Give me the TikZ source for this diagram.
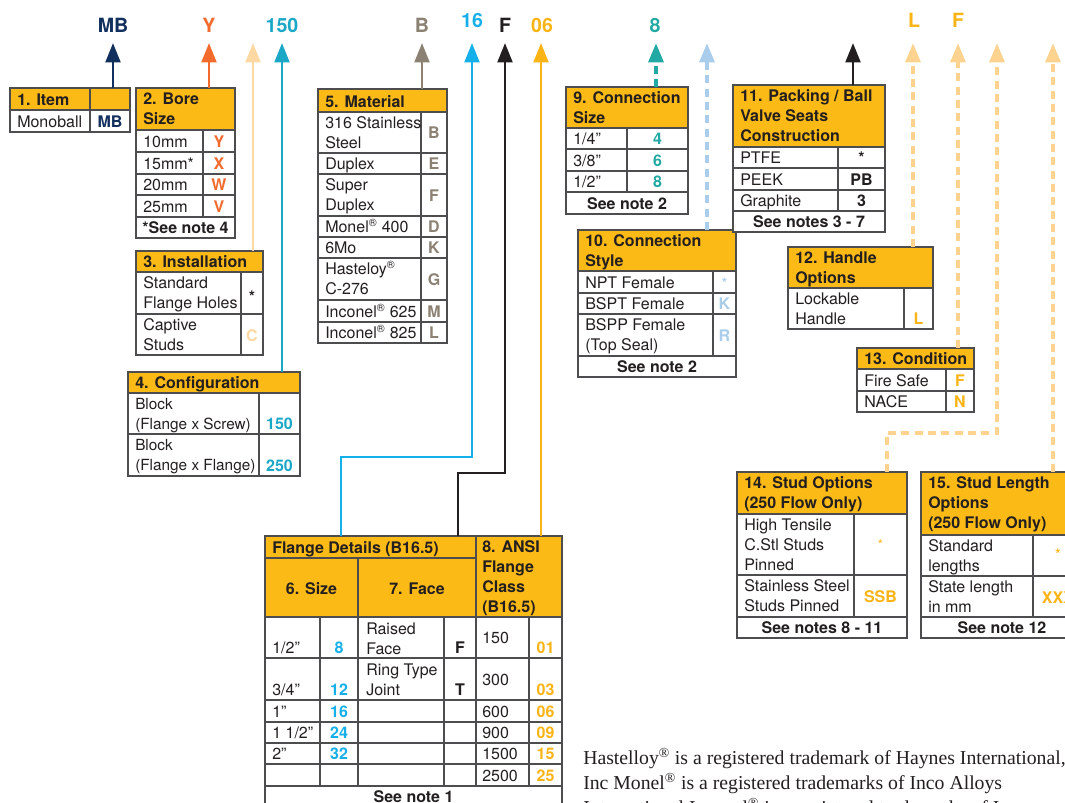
\documentclass[tikz,border=0pt]{standalone}
\usepackage{fontspec}
\setmainfont{TeX Gyre Heros}
\newfontfamily\notefont{Liberation Serif}
\usetikzlibrary{arrows.meta}

\definecolor{hdryellow}{HTML}{FCBA16}
\definecolor{gridgray}{HTML}{4D4D4F}
\definecolor{inkgray}{HTML}{231F20}
\definecolor{itemnavy}{HTML}{12305E}
\definecolor{boreorange}{HTML}{F26A2C}
\definecolor{confcyan}{HTML}{1AA8C6}
\definecolor{instpeach}{HTML}{FDD8A2}
\definecolor{matgray}{HTML}{8C8273}
\definecolor{sizeblue}{HTML}{15B0EA}
\definecolor{classyellow}{HTML}{FBB416}
\definecolor{csizeteal}{HTML}{22A9A3}
\definecolor{stylepale}{HTML}{A9CDEB}
\definecolor{optpale}{HTML}{FDD38F}

\newcommand{\regmark}{\textsuperscript{\textregistered}}

\begin{document}
\begin{tikzpicture}[x=0.75pt, y=-0.75pt,
  hdrbox/.style={draw=gridgray, fill=hdryellow, line width=0.9pt},
  cellbox/.style={draw=gridgray, fill=white, line width=0.9pt},
  celltxt/.style={anchor=base west, inner sep=0pt, text=inkgray, align=left,
    font=\fontsize{12}{15}\selectfont},
  hdrtxt/.style={celltxt, font=\fontsize{12}{15}\selectfont\bfseries},
  codetxt/.style={anchor=base, inner sep=0pt, font=\fontsize{12}{15}\selectfont\bfseries},
  startxt/.style={anchor=base, inner sep=0pt, font=\fontsize{12}{15}\selectfont},
  notetxt/.style={codetxt, text=inkgray},
  toplabel/.style={anchor=base, inner sep=0pt, font=\fontsize{14.7}{18}\selectfont\bfseries},
  solidarrow/.style={line width=2.2pt, -{Triangle[width=11pt,length=14.5pt]}},
  dasharrow/.style={solidarrow, line width=3pt, dash pattern=on 6pt off 4pt},
]
\path[fill=white, use as bounding box] (0,0) rectangle (1065,803);

% code letters along the top
\node[toplabel, text=itemnavy] (lbl-item) at (113,32) {MB};
\node[toplabel, text=boreorange] (lbl-bore) at (209,32) {Y};
\node[toplabel, text=confcyan] (lbl-conf) at (282,32) {150};
\node[toplabel, text=matgray] (lbl-mat) at (422,32) {B};
\node[toplabel, text=sizeblue] (lbl-size) at (472,27.5) {16};
\node[toplabel, text=inkgray] (lbl-face) at (505,32) {F};
\node[toplabel, text=classyellow] (lbl-class) at (542,32) {06};
\node[toplabel, text=csizeteal] (lbl-csize) at (655,32) {8};
\node[toplabel, text=classyellow] (lbl-handle) at (914,27.5) {L};
\node[toplabel, text=classyellow] (lbl-cond) at (958,27.5) {F};
\coordinate (tips) at (0,43);

% 1. Item
\draw[hdrbox] (10,88) rectangle (90,110);
\draw[hdrbox] (90,88) rectangle (130,110);
\draw[cellbox] (10,110) rectangle (90,132);
\draw[cellbox] (90,110) rectangle (130,132);
\node[hdrtxt] (item-h) at (17,105) {1. Item};
\node[celltxt] (item-t) at (17,127) {Monoball};
\node[codetxt, text=itemnavy] (item-MB) at (110,127) {MB};
\coordinate (item-top) at (113,88);

% 2. Bore size
\draw[hdrbox] (136,88) rectangle (235,130);
\node[hdrtxt] (bore-h) at (143,124) {2. Bore\\Size};
\foreach \ya/\yb/\txt/\cd in {130/152/10mm/Y,152/174/15mm*/X,174/195/20mm/W,195/217/25mm/V}
{
  \draw[cellbox] (136,\ya) rectangle (203,\yb);
  \draw[cellbox] (203,\ya) rectangle (235,\yb);
  \node[celltxt] (bore-t\cd) at (143,{\yb-5}) {\txt};
  \node[codetxt, text=boreorange] (bore-\cd) at (219,{\yb-5}) {\cd};
}
\draw[cellbox] (136,217) rectangle (235,238);
\node[notetxt] (bore-note) at (185.5,233) {*See note 4};
\coordinate (bore-top) at (209,88);

% 3. Installation
\draw[hdrbox] (136,251) rectangle (263,272);
\draw[cellbox] (136,272) rectangle (241,314);
\draw[cellbox] (241,272) rectangle (263,314);
\draw[cellbox] (136,314) rectangle (241,355);
\draw[cellbox] (241,314) rectangle (263,355);
\node[hdrtxt] (inst-h) at (143,267) {3. Installation};
\node[celltxt] (inst-t1) at (143,308) {Standard\\Flange Holes};
\node[codetxt, text=inkgray] (inst-std) at (252,302) {*};
\node[celltxt] (inst-t2) at (143,350) {Captive\\Studs};
\node[codetxt, text=instpeach] (inst-C) at (252,341) {C};
\coordinate (inst-top) at (253,251);

% 4. Configuration
\draw[hdrbox] (128,372) rectangle (300,393);
\draw[cellbox] (128,393) rectangle (259,434);
\draw[cellbox] (259,393) rectangle (300,434);
\draw[cellbox] (128,434) rectangle (259,476);
\draw[cellbox] (259,434) rectangle (300,476);
\node[hdrtxt] (conf-h) at (135,388) {4. Configuration};
\node[celltxt, font=\fontsize{11.5}{15}\selectfont] (conf-t1) at (135,429) {Block\\(Flange x Screw)};
\node[codetxt, text=confcyan] (conf-150) at (279.5,429) {150};
\node[celltxt, font=\fontsize{11.5}{15}\selectfont] (conf-t2) at (135,470) {Block\\(Flange x Flange)};
\node[codetxt, text=confcyan] (conf-250) at (279.5,471) {250};
\coordinate (conf-top) at (282,372);

% 5. Material
\draw[hdrbox] (318,89) rectangle (447,112);
\node[hdrtxt] (mat-h) at (325,107) {5. Material};
\foreach \ya/\yb/\tb/\cb/\txt/\cd in {
  112/153/148/138.5/{316 Stainless\\Steel}/B,
  153/174/169/169/Duplex/E,
  174/216/210/201/{Super\\Duplex}/F,
  216/237/232/232/{Monel\regmark{} 400}/D,
  237/258/253/253/6Mo/K,
  258/300/294/285/{Hasteloy\regmark\\C-276}/G,
  300/322/317/317/{Inconel\regmark{} 625}/M,
  322/343/338/338/{Inconel\regmark{} 825}/L}
{
  \draw[cellbox] (318,\ya) rectangle (421,\yb);
  \draw[cellbox] (421,\ya) rectangle (447,\yb);
  \node[celltxt] (mat-t\cd) at (325,\tb) {\txt};
  \node[codetxt, text=matgray] (mat-\cd) at (434,\cb) {\cd};
}
\coordinate (mat-top) at (422,89);

% 6. / 7. / 8. Flange details
\draw[hdrbox] (265,536) rectangle (476,558);
\draw[hdrbox] (265,558) rectangle (358,617);
\draw[hdrbox] (358,558) rectangle (476,617);
\draw[hdrbox] (476,536) rectangle (562,617);
\node[hdrtxt] (fl-h) at (272,553) {Flange Details (B16.5)};
\node[hdrtxt, anchor=base] (size-h) at (311.5,594) {6. Size};
\node[hdrtxt, anchor=base] (face-h) at (417,594) {7. Face};
\node[hdrtxt] (class-h) at (482,612) {8. ANSI\\Flange\\Class\\(B16.5)};
\foreach \ya/\yb in {617/658,658/700,700/722,722/743,743/764,764/786}
  \foreach \xa/\xb in {265/320,320/358,358/444,444/476,476/529,529/562}
    \draw[cellbox] (\xa,\ya) rectangle (\xb,\yb);
\node[celltxt] (size-t8) at (272,653) {1/2”};
\node[codetxt, text=sizeblue] (size-8) at (339,653) {8};
\node[celltxt] (face-tF) at (366,654) {Raised\\Face};
\node[codetxt, text=inkgray] (face-F) at (460,653) {F};
\node[celltxt] (class-t01) at (482,643) {150};
\node[codetxt, text=classyellow] (class-01) at (545.5,653) {01};
\node[celltxt] (size-t12) at (272,695) {3/4”};
\node[codetxt, text=sizeblue] (size-12) at (339,695) {12};
\node[celltxt] (face-tT) at (366,695) {Ring Type\\Joint};
\node[codetxt, text=inkgray] (face-T) at (460,695) {T};
\node[celltxt] (class-t03) at (482,685) {300};
\node[codetxt, text=classyellow] (class-03) at (545.5,695) {03};
\foreach \bl/\sz/\sc/\cl/\cc in {717/1”/16/600/06, 738/{1 1/2”}/24/900/09, 759/2”/32/1500/15}
{
  \node[celltxt] (size-t\sc) at (272,\bl) {\sz};
  \node[codetxt, text=sizeblue] (size-\sc) at (339,\bl) {\sc};
  \node[celltxt] (class-t\cc) at (482,\bl) {\cl};
  \node[codetxt, text=classyellow] (class-\cc) at (545.5,\bl) {\cc};
}
\node[celltxt] (class-t25) at (482,781) {2500};
\node[codetxt, text=classyellow] (class-25) at (545.5,781) {25};
\draw[cellbox] (265,786) rectangle (562,808);
\node[notetxt] (fl-note) at (413.5,802) {See note 1};
\coordinate (size-top) at (341,536);
\coordinate (face-top) at (458,536);
\coordinate (class-top) at (541,536);
\coordinate (size-jog) at (472,457);
\coordinate (face-jog) at (505,473);

% 9. Connection size
\draw[hdrbox] (566,87) rectangle (688,128);
\node[hdrtxt] (csize-h) at (573,123) {9. Connection\\Size};
\foreach \ya/\yb/\txt/\cd in {128/149/{1/4”}/4,149/171/{3/8”}/6,171/192/{1/2”}/8}
{
  \draw[cellbox] (566,\ya) rectangle (627,\yb);
  \draw[cellbox] (627,\ya) rectangle (688,\yb);
  \node[celltxt] (csize-t\cd) at (573,{\yb-5}) {\txt};
  \node[codetxt, text=csizeteal] (csize-\cd) at (657.5,{\yb-5}) {\cd};
}
\draw[cellbox] (566,192) rectangle (688,214);
\node[notetxt] (csize-note) at (627,209) {See note 2};
\coordinate (csize-top) at (656,87);

% 10. Connection style
\draw[hdrbox] (578,230) rectangle (736,271);
\node[hdrtxt] (cstyle-h) at (585,266) {10. Connection\\Style};
\draw[cellbox] (578,271) rectangle (713,293);
\draw[cellbox] (713,271) rectangle (736,293);
\draw[cellbox] (578,293) rectangle (713,314);
\draw[cellbox] (713,293) rectangle (736,314);
\draw[cellbox] (578,314) rectangle (713,356);
\draw[cellbox] (713,314) rectangle (736,356);
\node[celltxt] (cstyle-t1) at (585,288) {NPT Female};
\node[startxt, text=stylepale] (cstyle-npt) at (724.5,289) {*};
\node[celltxt] (cstyle-t2) at (585,309) {BSPT Female};
\node[codetxt, text=stylepale] (cstyle-K) at (724.5,309) {K};
\node[celltxt] (cstyle-t3) at (585,350) {BSPP Female\\(Top Seal)};
\node[codetxt, text=stylepale] (cstyle-R) at (724.5,341) {R};
\draw[cellbox] (578,356) rectangle (736,377);
\node[notetxt] (cstyle-note) at (657,372) {See note 2};
\coordinate (cstyle-top) at (707,230);

% 11. Packing / seats
\draw[hdrbox] (733,85) rectangle (885,147);
\node[hdrtxt] (pack-h) at (740,141) {11. Packing / Ball\\Valve Seats\\Construction};
\foreach \ya/\yb/\txt/\cd in {147/168/PTFE/*,168/190/PEEK/PB,190/211/Graphite/3}
{
  \draw[cellbox] (733,\ya) rectangle (838,\yb);
  \draw[cellbox] (838,\ya) rectangle (885,\yb);
  \node[celltxt] (pack-t\txt) at (740,{\yb-5}) {\txt};
  \node[codetxt, text=inkgray] (pack-\txt-code) at (861.5,{\yb-5}) {\cd};
}
\draw[cellbox] (733,211) rectangle (885,232);
\node[notetxt] (pack-note) at (809,227) {See notes 3 - 7};
\coordinate (pack-top) at (853,85);

% 12. Handle options
\draw[hdrbox] (788,247) rectangle (933,288);
\draw[cellbox] (788,288) rectangle (904,329);
\draw[cellbox] (904,288) rectangle (933,329);
\node[hdrtxt] (handle-h) at (795,283) {12. Handle\\Options};
\node[celltxt] (handle-t) at (795,324) {Lockable\\Handle};
\node[codetxt, text=classyellow] (handle-L) at (918.5,324) {L};
\coordinate (handle-top) at (913,247);

% 13. Condition
\draw[hdrbox] (857,348) rectangle (974,369);
\node[hdrtxt] (cond-h) at (864,364) {13. Condition};
\foreach \ya/\yb/\txt/\cd in {369/391/Fire Safe/F,391/412/NACE/N}
{
  \draw[cellbox] (857,\ya) rectangle (946,\yb);
  \draw[cellbox] (946,\ya) rectangle (974,\yb);
  \node[celltxt] (cond-t\cd) at (864,{\yb-5}) {\txt};
  \node[codetxt, text=classyellow] (cond-\cd) at (960,{\yb-5}) {\cd};
}
\coordinate (cond-top) at (958,348);

% 14. Stud options
\draw[hdrbox] (737,472) rectangle (907,514);
\draw[cellbox] (737,514) rectangle (854,575);
\draw[cellbox] (854,514) rectangle (907,575);
\draw[cellbox] (737,575) rectangle (854,617);
\draw[cellbox] (854,575) rectangle (907,617);
\draw[cellbox] (737,617) rectangle (907,638);
\node[hdrtxt] (stud-h) at (744,508) {14. Stud Options\\(250 Flow Only)};
\node[celltxt] (stud-t1) at (744,570) {High Tensile\\C.Stl Studs\\Pinned};
\node[startxt, text=classyellow, font=\fontsize{10}{12}\selectfont] (stud-std) at (880.5,549) {*};
\node[celltxt] (stud-t2) at (744,611) {Stainless Steel\\Studs Pinned};
\node[codetxt, text=classyellow] (stud-SSB) at (880.5,602) {SSB};
\node[notetxt] (stud-note) at (822,633) {See notes 8 - 11};
\coordinate (stud-top) at (887,472);
\coordinate (stud-jog) at (997,433);

% 15. Stud length
\draw[hdrbox] (921,472) rectangle (1083,535);
\draw[cellbox] (921,535) rectangle (1033,576);
\draw[cellbox] (1033,535) rectangle (1083,576);
\draw[cellbox] (921,576) rectangle (1033,617);
\draw[cellbox] (1033,576) rectangle (1083,617);
\draw[cellbox] (921,617) rectangle (1083,638);
\node[hdrtxt] (len-h) at (928,528) {15. Stud Length\\Options\\(250 Flow Only)};
\node[celltxt] (len-t1) at (928,571) {Standard\\lengths};
\node[startxt, text=classyellow] (len-std) at (1058,560) {*};
\node[celltxt] (len-t2) at (928,612) {State length\\in mm};
\node[codetxt, text=classyellow] (len-XXX) at (1058,603) {XXX};
\node[notetxt] (len-note) at (1002,633) {See note 12};
\coordinate (len-top) at (1053,472);

% arrows up to the code letters
\draw[solidarrow, itemnavy] (item-top) -- (item-top |- tips);
\draw[solidarrow, boreorange] (bore-top) -- (bore-top |- tips);
\draw[solidarrow, instpeach] (inst-top) -- (inst-top |- tips);
\draw[solidarrow, confcyan] (conf-top) -- (conf-top |- tips);
\draw[solidarrow, matgray] (mat-top) -- (mat-top |- tips);
\draw[solidarrow, sizeblue] (size-top) |- (size-jog) -- (size-jog |- tips);
\draw[solidarrow, inkgray] (face-top) |- (face-jog) -- (face-jog |- tips);
\draw[solidarrow, classyellow] (class-top) -- (class-top |- tips);
\draw[dasharrow, csizeteal] (csize-top) -- (csize-top |- tips);
\draw[dasharrow, stylepale] (cstyle-top) -- (cstyle-top |- tips);
\draw[solidarrow, inkgray] (pack-top) -- (pack-top |- tips);
\draw[dasharrow, optpale] (handle-top) -- (handle-top |- tips);
\draw[dasharrow, optpale] (cond-top) -- (cond-top |- tips);
\draw[dasharrow, optpale] (stud-top) |- (stud-jog) -- (stud-jog |- tips);
\draw[dasharrow, optpale] (len-top) -- (len-top |- tips);

% trademark note
\node[anchor=base west, inner sep=0pt, align=left, text=inkgray,
  font=\notefont\fontsize{14.8}{18.75}\selectfont] (tm-note) at (583,814)
  {Hastelloy\regmark{} is a registered trademark of Haynes International,\\
   Inc Monel\regmark{} is a registered trademarks of Inco Alloys\\
   International Inconel\regmark{} is a registered trademarks of Inco};
\end{tikzpicture}
\end{document}
